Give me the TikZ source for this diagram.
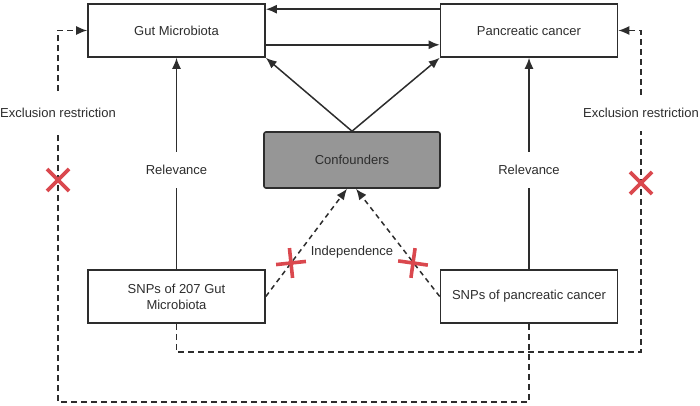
\documentclass[tikz,border=0pt]{standalone}
\usepackage{fontspec}
\setmainfont{Liberation Sans}
\usetikzlibrary{positioning,arrows.meta,calc}
\definecolor{linegray}{RGB}{45,45,45}
\definecolor{boxgray}{RGB}{150,150,150}
\definecolor{crossred}{RGB}{218,72,78}

\begin{document}
\begin{tikzpicture}[x=1pt,y=-1pt,
  box/.style={draw=linegray,line width=1.6pt,minimum width=177pt,minimum height=53pt,align=center,text=linegray,font=\fontsize{13}{16}\selectfont,inner sep=2pt},
  arr/.style={draw=linegray,line width=1.5pt,-{Latex[length=11pt,width=9pt]}},
  dsh/.style={arr,dash pattern=on 6pt off 4pt},
  lbl/.style={fill=white,text=linegray,font=\fontsize{13}{15}\selectfont,inner xsep=2pt,inner ysep=13pt},
  nope/.style={draw=crossred,line width=3.6pt}]
\useasboundingbox (0,0) rectangle (700,406);
% exposure / outcome on top, confounders in the middle, instruments below
\node[box] (gm) at (176.5,30.5) {Gut Microbiota};
\node[box] (pc) at (529,30.5) {Pancreatic cancer};
\node[box,fill=boxgray,rounded corners=2pt,minimum width=176pt,minimum height=56pt] (conf) at (352,160) {Confounders};
\node[box] (snpgm) at (176.5,296.5) {SNPs of 207 Gut\\Microbiota};
\node[box] (snppc) at (529,296.5) {SNPs of pancreatic cancer};
% bidirectional arrows between gut microbiota and cancer
\draw[arr] ($(pc.north west)+(0,6)$) -- ($(gm.north east)+(0,6)$);
\draw[arr] ($(gm.south east)+(0,-13)$) -- ($(pc.south west)+(0,-13)$);
\draw[arr] (conf.north) -- (gm.south east);
\draw[arr] (conf.north) -- (pc.south west);
% relevance
\draw[arr] (snpgm) -- (gm) node[lbl,pos=0.47] (relgm) {Relevance};
\draw[arr] (snppc) -- (pc) node[lbl,pos=0.47] (relpc) {Relevance};
% independence
\draw[dsh,dash pattern=on 5pt off 4pt] (snpgm.east) -- ($(conf.south)+(-5,0)$);
\draw[dsh,dash pattern=on 5pt off 4pt] (snppc.west) -- ($(conf.south)+(4,0)$);
\node[text=linegray,font=\fontsize{13}{15}\selectfont] (indep) at (352,252) {Independence};
% exclusion restriction paths
\coordinate (rgt) at (641,352);
\coordinate (lft) at (58,402);
\draw[dsh] (snpgm.south) |- (rgt) |- (pc.east);
\draw[dsh] (snppc.south) |- (lft) |- (gm.west);
\node[lbl] (exl) at (58,113) {Exclusion restriction};
\node[lbl] (exr) at (641,113) {Exclusion restriction};
% red crosses
\foreach \cx/\cy in {58/180,641/183} {
  \draw[nope] (\cx-11,\cy-11) -- (\cx+11,\cy+11) (\cx-11,\cy+11) -- (\cx+11,\cy-11);}
\foreach \cx/\cy/\ang in {291/263/6,413/263/-8} {
  \draw[nope,rotate around={\ang:(\cx,\cy)}] (\cx-15,\cy) -- (\cx+15,\cy) (\cx,\cy-15) -- (\cx,\cy+15);}
\end{tikzpicture}
\end{document}
